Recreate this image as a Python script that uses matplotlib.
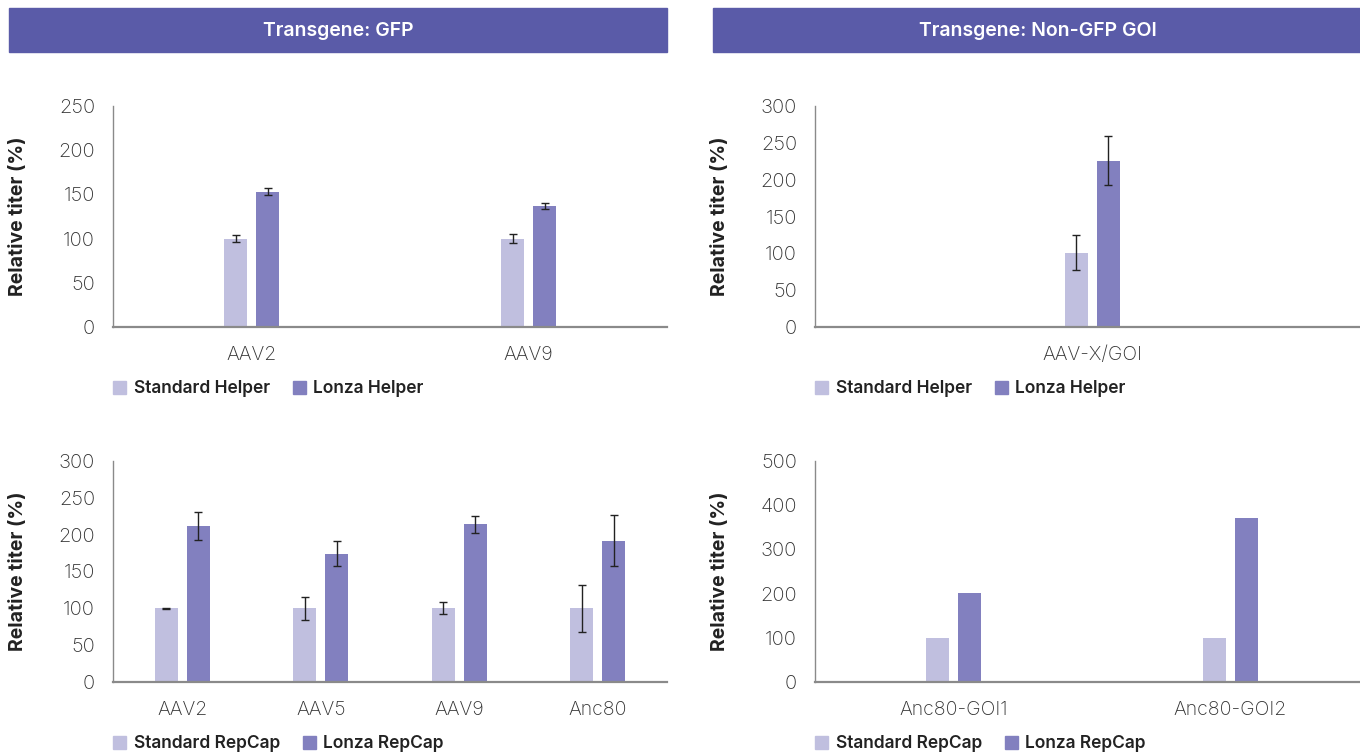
import numpy as np
import matplotlib
matplotlib.use("Agg")
import matplotlib.pyplot as plt
from matplotlib.patches import Rectangle, Patch

plt.rcParams['font.family'] = ['Inter', 'DejaVu Sans']

# ---- data ----
gfp_helper_cats = ["AAV2", "AAV9"]
gfp_helper_std = [100, 100]
gfp_helper_std_err = [4, 5]
gfp_helper_lonza = [153, 137]
gfp_helper_lonza_err = [4, 3]

goi_helper_cats = ["AAV-X/GOI"]
goi_helper_std = [101]
goi_helper_std_err = [24]
goi_helper_lonza = [226]
goi_helper_lonza_err = [33]

gfp_repcap_cats = ["AAV2", "AAV5", "AAV9", "Anc80"]
gfp_repcap_std = [100, 100, 100, 100]
gfp_repcap_std_err = [0.5, 16, 8, 32]
gfp_repcap_lonza = [212, 174, 214, 192]
gfp_repcap_lonza_err = [19, 17, 12, 35]

goi_repcap_cats = ["Anc80-GOI1", "Anc80-GOI2"]
goi_repcap_std = [100, 100]
goi_repcap_lonza = [201, 371]

headers = ["Transgene: GFP", "Transgene: Non-GFP GOI"]

C_LIGHT = "#c0bfdf"
C_DARK = "#8280bf"
C_HEAD = "#5a5ba8"
C_TEXT = "#333333"
C_AXIS = "#8a8a8a"

W, H = 1360, 753
fig = plt.figure(figsize=(W / 100, H / 100), dpi=100)

# header bars
for x0, x1, txt in [(9, 667, headers[0]), (713, 1362, headers[1])]:
    fig.patches.append(Rectangle((x0 / W, 1 - 52 / H), (x1 - x0) / W, 44 / H,
                                 transform=fig.transFigure, color=C_HEAD, zorder=0))
    fig.text((x0 + x1) / 2 / W, 1 - 31 / H, txt, color="white", fontsize=14,
             fontweight="semibold", ha="center", va="center")

AX_W = 554


def panel(left_px, bottom_px, cats, std, lonza, std_err, lonza_err, ymax, step, labels):
    ax = fig.add_axes([left_px / W, 1 - bottom_px / H, AX_W / W, 221 / H])
    n = len(cats)
    unit = AX_W / n
    bw = 23 / unit
    off = 16 / unit
    x = np.arange(n)
    ekw = dict(ecolor="#222222", elinewidth=1, capsize=2.6, capthick=1)
    ax.bar(x - off, std, bw, color=C_LIGHT, yerr=std_err, error_kw=ekw, zorder=2)
    ax.bar(x + off, lonza, bw, color=C_DARK, yerr=lonza_err, error_kw=ekw, zorder=2)
    ax.set_xlim(-0.5, n - 0.5)
    ax.set_ylim(0, ymax)
    ax.set_yticks(np.arange(0, ymax + 1, step))
    ax.set_xticks(x)
    ax.set_xticklabels(cats)
    for s in ["top", "right"]:
        ax.spines[s].set_visible(False)
    ax.spines["left"].set_color(C_AXIS)
    ax.spines["left"].set_linewidth(1.0)
    ax.spines["bottom"].set_color(C_AXIS)
    ax.spines["bottom"].set_linewidth(1.6)
    ax.tick_params(axis="y", length=0, pad=13, labelsize=14.5, labelcolor=C_TEXT)
    ax.tick_params(axis="x", length=0, pad=14, labelsize=14, labelcolor=C_TEXT)
    for t in ax.get_xticklabels() + ax.get_yticklabels():
        t.set_fontweight("light")
    ax.set_ylabel("Relative titer (%)", fontsize=14, fontweight="bold", color="#222222")
    ax.yaxis.set_label_coords(-86 / AX_W, 0.5)
    handles = [Patch(color=C_LIGHT, label=labels[0]), Patch(color=C_DARK, label=labels[1])]
    leg = ax.legend(handles=handles, loc="center left", bbox_to_anchor=(0, -0.28),
                    frameon=False, ncol=2, borderpad=0, borderaxespad=0,
                    handlelength=0.75, handleheight=0.75, handletextpad=0.45,
                    columnspacing=1.3, prop=dict(size=12.5, weight="semibold"))
    for t in leg.get_texts():
        t.set_color("#222222")
    return ax


panel(113, 327, gfp_helper_cats, gfp_helper_std, gfp_helper_lonza,
      gfp_helper_std_err, gfp_helper_lonza_err, 250, 50, ["Standard Helper", "Lonza Helper"])
panel(815, 327, goi_helper_cats, goi_helper_std, goi_helper_lonza,
      goi_helper_std_err, goi_helper_lonza_err, 300, 50, ["Standard Helper", "Lonza Helper"])
panel(113, 682, gfp_repcap_cats, gfp_repcap_std, gfp_repcap_lonza,
      gfp_repcap_std_err, gfp_repcap_lonza_err, 300, 50, ["Standard RepCap", "Lonza RepCap"])
panel(815, 682, goi_repcap_cats, goi_repcap_std, goi_repcap_lonza,
      None, None, 500, 100, ["Standard RepCap", "Lonza RepCap"])

fig.savefig("out.png", dpi=100)
